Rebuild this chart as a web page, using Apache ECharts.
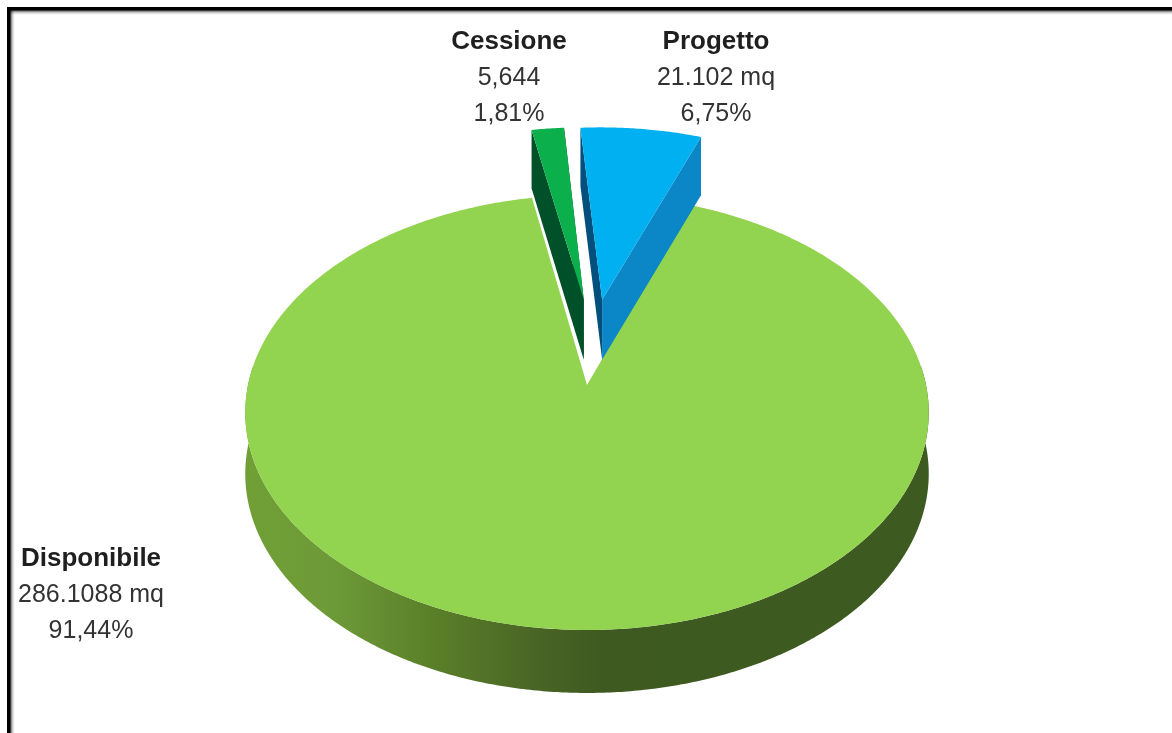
<!DOCTYPE html>
<html>
<head>
<meta charset="utf-8">
<style>html,body{margin:0;padding:0;background:#fff}#c{width:1172px;height:733px}</style>
<script src="https://cdn.jsdelivr.net/npm/echarts@6/dist/echarts.min.js"></script>
</head>
<body>
<div id="c"></div>
<script>
// Data
const categories = ['Disponibile', 'Cessione', 'Progetto'];
const percents = [91.44, 1.81, 6.75];
const amountLabels = ['286.1088 mq', '5,644', '21.102 mq'];
const percentLabels = ['91,44%', '1,81%', '6,75%'];

// Styles and layout
const topColors = ['#92d34f', '#0bb04d', '#00b0f0'];
const leftWall = ['#000', '#00502a', '#004f7c'];
const rightWall = ['#000', '#00502a', '#0b86c6'];
const explodeX = [0, -0.01, 0.047];
const explodeY = [0, 0.42, 0.42];
const labelX = [91, 509, 716];
const labelY = [595, 78, 78];
const startAngle = 20.3;
const apex = { x: 587, y: 385 };
const R = 339, A = 214, C = 0.1264;   // perspective projection of the disc

function project(u, v, depth) {
  const den = 1 + C * v;
  const d = depth ? 61 - 2 * v : 0;
  return [apex.x + R * u / den, apex.y - A * v / den + d];
}
const total = percents.reduce((a, b) => a + b, 0);
const starts = [];
percents.reduce((acc, p, i) => { starts[i] = acc; return acc + p / total * 360; }, startAngle);

function rim(a0, a1, ox, oy, depth) {
  const pts = [];
  const n = Math.max(2, Math.ceil(Math.abs(a1 - a0) * 2));
  for (let k = 0; k <= n; k++) {
    const t = (a0 + (a1 - a0) * k / n) * Math.PI / 180;
    pts.push(project(Math.sin(t) + ox, Math.cos(t) + oy, depth));
  }
  return pts;
}
const poly = (points, fill) => ({ type: 'polygon', shape: { points }, style: { fill }, silent: true });

const wallGradient = {
  type: 'linear', x: 245, y: 0, x2: 930, y2: 0, global: true,
  colorStops: [
    { offset: 0, color: '#719f36' },
    { offset: 0.13, color: '#6d9a38' },
    { offset: 0.27, color: '#5a8029' },
    { offset: 0.42, color: '#4a6625' },
    { offset: 0.52, color: '#3e5a20' },
    { offset: 1, color: '#3d5a20' }
  ]
};

function renderItem(params, api) {
  const i = params.dataIndex;
  const a0 = starts[i];
  const a1 = a0 + api.value(0) / total * 360;
  const ox = explodeX[i], oy = explodeY[i];
  const children = [];
  const apexTop = project(ox, oy, false);
  const apexBase = project(ox, oy, true);
  const topRim = rim(a0, a1, ox, oy, false);
  if (i === 0) {
    const front = rim(85, 275, 0, 0, false);
    const back = rim(85, 275, 0, 0, true).reverse();
    children.push(poly(front.concat(back), wallGradient));
  } else {
    const startTop = topRim[0], endTop = topRim[topRim.length - 1];
    const startBase = project(Math.sin(a0 * Math.PI / 180) + ox, Math.cos(a0 * Math.PI / 180) + oy, true);
    const endBase = project(Math.sin(a1 * Math.PI / 180) + ox, Math.cos(a1 * Math.PI / 180) + oy, true);
    children.push(poly([endTop, apexTop, apexBase, endBase], rightWall[i]));
    children.push(poly([startTop, apexTop, apexBase, startBase], leftWall[i]));
  }
  children.push(poly([apexTop].concat(topRim), topColors[i]));
  children.push({
    type: 'text', silent: true,
    style: {
      x: labelX[i], y: labelY[i], align: 'center', verticalAlign: 'middle',
      text: '{b|' + categories[i] + '}\n{r|' + amountLabels[i] + '}\n{r|' + percentLabels[i] + '}',
      rich: {
        b: { fontFamily: 'Liberation Sans', fontWeight: 'bold', fontSize: 26, lineHeight: 36, fill: '#1f1f1f', align: 'center' },
        r: { fontFamily: 'Liberation Sans', fontSize: 25, lineHeight: 36, fill: '#333333', align: 'center' }
      }
    }
  });
  return { type: 'group', children };
}

const fade = (x, y, x2, y2) => ({
  type: 'linear', x, y, x2, y2, global: true,
  colorStops: [
    { offset: 0, color: 'rgba(0,0,0,1)' }, { offset: 0.36, color: 'rgba(0,0,0,1)' },
    { offset: 0.55, color: 'rgba(0,0,0,0.45)' }, { offset: 0.75, color: 'rgba(0,0,0,0.13)' }, { offset: 1, color: 'rgba(0,0,0,0)' }
  ]
});

const chart = echarts.init(document.getElementById('c'), null, { renderer: 'canvas' });
chart.setOption({
  animation: false,
  backgroundColor: '#fff',
  tooltip: { show: false },
  graphic: [
    { type: 'rect', silent: true, shape: { x: 7, y: 7, width: 8, height: 726 }, style: { fill: fade(7, 0, 15, 0) } },
    { type: 'rect', silent: true, shape: { x: 7, y: 7, width: 1165, height: 8 }, style: { fill: fade(0, 7, 0, 15) } }
  ],
  series: [{
    type: 'custom',
    coordinateSystem: 'none',
    renderItem,
    encode: { value: 0 },
    data: percents.map((p, i) => ({ name: categories[i], value: [p] }))
  }]
});
</script>
</body>
</html>
